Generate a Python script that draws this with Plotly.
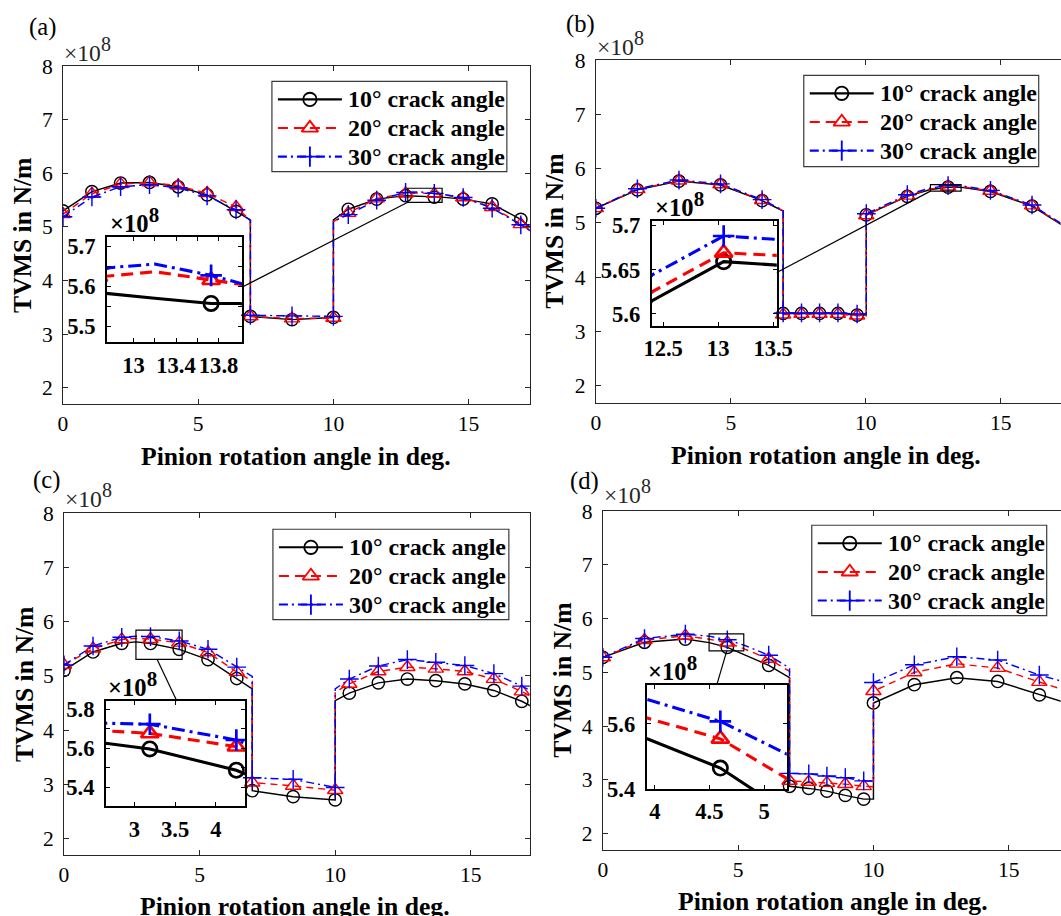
import plotly.graph_objects as go

# Window-pixel geometry is mapped onto the figure through the page placement
# (window = S * figure + O); sizes are scaled by K so they keep their on-screen size.
SX, OX = 0.978, 8.0
SY, OY = 0.970, 12.0
K = 1 / 0.974
PAGE_W, PAGE_H = 1061, 916
W = round((PAGE_W - OX) / SX)
H = round((PAGE_H - OY) / SY)
SERIF = "Liberation Serif"

# ---------------- data: TVMS in units of 1e8 N/m ----------------
# *_mk flags which sampled points carry a marker symbol
a_x  = [0, 1.07, 2.13, 3.2, 4.26, 5.33, 6.4, 6.93, 6.93, 8.47, 10.0, 10.0, 10.55, 11.6, 12.67, 13.2, 13.73, 14.0, 14.8, 15.87, 16.93, 17.3]
a_10 = [5.30, 5.66, 5.82, 5.83, 5.75, 5.60, 5.29, 5.13, 3.33, 3.27, 3.31, 5.13, 5.33, 5.52, 5.584, 5.570, 5.557, 5.557, 5.52, 5.43, 5.14, 4.98]
a_20 = [5.24, 5.62, 5.80, 5.83, 5.77, 5.63, 5.37, 5.12, 3.33, 3.29, 3.30, 5.10, 5.26, 5.53, 5.623, 5.636, 5.615, 5.605, 5.55, 5.37, 5.05, 4.93]
a_30 = [5.19, 5.56, 5.75, 5.79, 5.73, 5.58, 5.32, 5.12, 3.35, 3.34, 3.33, 5.10, 5.23, 5.50, 5.644, 5.655, 5.627, 5.610, 5.55, 5.35, 5.04, 4.92]
a_mk = [1, 1, 1, 1, 1, 1, 1, 0, 1, 1, 1, 0, 1, 1, 1, 0, 1, 0, 1, 1, 1, 0]

b_x  = [0, 1.54, 3.08, 4.62, 6.16, 6.94, 6.94, 7.62, 8.29, 8.97, 9.68, 10.02, 10.02, 11.54, 12.4, 13.05, 13.55, 14.62, 16.16, 17.3]
b_10 = [5.27, 5.61, 5.77, 5.70, 5.41, 5.22, 3.33, 3.33, 3.33, 3.33, 3.30, 3.30, 5.15, 5.49, 5.615, 5.659, 5.655, 5.58, 5.31, 4.95]
b_20 = [5.27, 5.62, 5.78, 5.71, 5.42, 5.22, 3.31, 3.32, 3.32, 3.32, 3.29, 3.29, 5.14, 5.50, 5.625, 5.669, 5.666, 5.59, 5.32, 4.96]
b_30 = [5.27, 5.63, 5.79, 5.72, 5.43, 5.23, 3.34, 3.34, 3.34, 3.34, 3.32, 3.32, 5.17, 5.52, 5.644, 5.688, 5.684, 5.60, 5.33, 4.97]
b_mk = [1, 1, 1, 1, 1, 0, 1, 1, 1, 1, 1, 0, 1, 1, 0, 1, 0, 1, 1, 0]

c_x  = [0, 1.07, 2.13, 2.65, 3.19, 4.25, 5.31, 6.37, 6.94, 6.94, 8.45, 10.0, 10.0, 10.52, 11.59, 12.66, 13.71, 14.78, 15.85, 16.88, 17.3]
c_10 = [5.10, 5.44, 5.60, 5.626, 5.597, 5.488, 5.30, 4.95, 4.76, 2.88, 2.77, 2.71, 4.54, 4.68, 4.87, 4.94, 4.91, 4.85, 4.73, 4.53, 4.42]
c_20 = [5.20, 5.50, 5.67, 5.690, 5.677, 5.609, 5.43, 5.07, 4.90, 3.03, 2.97, 2.89, 4.70, 4.85, 5.08, 5.16, 5.13, 5.08, 4.94, 4.71, 4.60]
c_30 = [5.20, 5.55, 5.71, 5.729, 5.724, 5.643, 5.49, 5.16, 4.99, 3.12, 3.09, 2.94, 4.76, 4.94, 5.18, 5.30, 5.25, 5.19, 5.04, 4.81, 4.70]
c_mk = [1, 1, 1, 0, 1, 1, 1, 1, 0, 1, 1, 1, 0, 1, 1, 1, 1, 1, 1, 1, 0]

d_x  = [0, 1.54, 3.05, 3.93, 4.6, 5.2, 6.13, 6.9, 6.9, 7.61, 8.28, 8.96, 9.64, 10.0, 10.0, 11.51, 13.08, 14.59, 16.13, 17.0]
d_10 = [5.28, 5.56, 5.62, 5.554, 5.465, 5.33, 5.13, 4.90, 2.88, 2.84, 2.79, 2.71, 2.64, 2.64, 4.43, 4.77, 4.90, 4.83, 4.58, 4.45]
d_20 = [5.28, 5.60, 5.68, 5.617, 5.554, 5.443, 5.25, 5.02, 2.98, 2.96, 2.94, 2.92, 2.88, 2.87, 4.65, 5.00, 5.16, 5.08, 4.82, 4.68]
d_30 = [5.28, 5.63, 5.71, 5.674, 5.607, 5.509, 5.32, 5.08, 3.12, 3.11, 3.07, 3.04, 2.98, 2.97, 4.81, 5.14, 5.29, 5.23, 4.95, 4.83]
d_mk = [1, 1, 1, 0, 1, 0, 1, 0, 1, 1, 1, 1, 1, 0, 1, 1, 1, 1, 1, 0]

series_names = ["10° crack angle", "20° crack angle", "30° crack angle"]

main_xticks = [0, 5, 10, 15]
main_yticks = [2, 3, 4, 5, 6, 7, 8]

a_in_xt = [13.0, 13.2, 13.4, 13.6, 13.8]
a_in_xl = ["13", "", "13.4", "", "13.8"]
a_in_yt = [5.5, 5.55, 5.6, 5.65, 5.7]
a_in_yl = ["5.5", "", "5.6", "", "5.7"]
b_in_xt = [12.5, 13.0, 13.5]
b_in_xl = ["12.5", "13", "13.5"]
b_in_yt = [5.6, 5.65, 5.7]
b_in_yl = ["5.6", "5.65", "5.7"]
c_in_xt = [3.0, 3.5, 4.0]
c_in_xl = ["3", "3.5", "4"]
c_in_yt = [5.4, 5.5, 5.6, 5.7, 5.8]
c_in_yl = ["5.4", "", "5.6", "", "5.8"]
d_in_xt = [4.0, 4.5, 5.0]
d_in_xl = ["4", "4.5", "5"]
d_in_yt = [5.4, 5.6]
d_in_yl = ["5.4", "5.6"]

# ---------------- layout geometry (window pixels from the top-left corner) ----------------
# main box: left/top/right/bottom with the x scale given as (px of x=0, px per unit)
panels = [
    dict(tag="(a)", x=a_x, ys=[a_10, a_20, a_30], mk=a_mk,
         box=(63, 67, 530, 403), x0px=63, xppu=27.05, yr=[1.70, 8.0], mirror_y="ticks",
         ibox=(107, 237, 242, 342), ixr=[12.75, 14.02], iyr=[5.46, 5.7225],
         ixt=a_in_xt, ixl=a_in_xl, iyt=a_in_yt, iyl=a_in_yl,
         legend=(272, 82, 507, 172), letter=(27, 28), expo=(62, 69), iexpo=(108, 239),
         ytitle=(23, 235), xtitle=(296, 456), conn="right", cfrac=(0.476, None)),
    dict(tag="(b)", x=b_x, ys=[b_10, b_20, b_30], mk=b_mk,
         box=(596, 61, 1061, 402), x0px=596, xppu=27.0, yr=[1.685, 8.0], mirror_y=False,
         ibox=(652, 221, 777, 326), ixr=[12.397, 13.533], iyr=[5.586, 5.705],
         ixt=b_in_xt, ixl=b_in_xl, iyt=b_in_yt, iyl=b_in_yl,
         legend=(804, 76, 1039, 167), letter=(564, 25), expo=(595, 63), iexpo=(653, 223),
         ytitle=(555, 231), xtitle=(826, 455), conn="right", cfrac=(0.49, None)),
    dict(tag="(c)", x=c_x, ys=[c_10, c_20, c_30], mk=c_mk,
         box=(64, 512, 530, 852), x0px=64, xppu=27.13, yr=[1.70, 8.0], mirror_y="ticks",
         ibox=(106, 699, 245, 804), ixr=[2.653, 4.355], iyr=[5.302, 5.843],
         ixt=c_in_xt, ixl=c_in_xl, iyt=c_in_yt, iyl=c_in_yl,
         legend=(273, 528, 509, 618), letter=(31, 479), expo=(63, 513), iexpo=(106, 701),
         ytitle=(25, 682), xtitle=(295, 904), conn="top", cfrac=(0.46, 0.51)),
    dict(tag="(d)", x=d_x, ys=[d_10, d_20, d_30], mk=d_mk,
         box=(603, 510, 1061, 847), x0px=603, xppu=27.07, yr=[1.70, 8.0], mirror_y=False,
         ibox=(647, 683, 787, 787), ixr=[3.927, 5.208], iyr=[5.40, 5.718],
         ixt=d_in_xt, ixl=d_in_xl, iyt=d_in_yt, iyl=d_in_yl,
         legend=(812, 524, 1047, 614), letter=(568, 480), expo=(602, 509), iexpo=(646, 685),
         ytitle=(563, 678), xtitle=(833, 899), conn="top", cfrac=(0.51, 0.50)),
]

styles = [
    dict(color="black", dash="solid", idash="solid", ldash="solid",
         symbol="circle-open", size=12),
    dict(color="red", dash="7px,5px", idash="12px,7px", ldash="10px,6px",
         symbol="triangle-up-open", size=13),
    dict(color="blue", dash="8px,4px,2px,4px", idash="13px,5px,3px,5px", ldash="9px,4px,2px,4px",
         symbol="cross-thin-open", size=13),
]


def fx(px):
    return (px - OX) / SX


def fy(py):
    return (py - OY) / SY


def pfx(px):
    return min(max(fx(px) / W, 0), 1)


def pfy(py):
    return min(max(1 - fy(py) / H, 0), 1)


def ax_name(kind, n):
    return kind if n == 1 else f"{kind}{n}"


def font(size, **kw):
    return dict(family=SERIF, size=size * K, color=kw.pop("color", "black"), **kw)


fig = go.Figure()
layout_axes = {}
annotations = []
shapes = []
legend_rows = (18, 46.5, 75)   # row centres inside a legend box

for i, p in enumerate(panels, start=1):
    j = i + 4
    xa, ya = ax_name("x", i), ax_name("y", i)
    xi, yi = ax_name("x", j), ax_name("y", j)
    marked_x = [x for x, f in zip(p["x"], p["mk"]) if f]

    for st, yv in zip(styles, p["ys"]):
        marked_y = [y for y, f in zip(yv, p["mk"]) if f]
        # main axes: curve and markers
        fig.add_trace(go.Scatter(x=p["x"], y=yv, mode="lines", xaxis=xa, yaxis=ya,
                                 line=dict(color=st["color"], width=1.4 * K, dash=st["dash"]),
                                 showlegend=False, hoverinfo="skip"))
        fig.add_trace(go.Scatter(x=marked_x, y=marked_y, mode="markers", xaxis=xa, yaxis=ya,
                                 marker=dict(symbol=st["symbol"], size=st["size"] * K,
                                             color=st["color"],
                                             line=dict(color=st["color"], width=1.4 * K)),
                                 showlegend=False, hoverinfo="skip"))
        # inset axes: zoomed view of the same series
        fig.add_trace(go.Scatter(x=p["x"], y=yv, mode="lines", xaxis=xi, yaxis=yi,
                                 line=dict(color=st["color"], width=3 * K, dash=st["idash"]),
                                 showlegend=False, hoverinfo="skip"))
        fig.add_trace(go.Scatter(x=marked_x, y=marked_y, mode="markers", xaxis=xi, yaxis=yi,
                                 marker=dict(symbol=st["symbol"], size=(st["size"] + 2) * K,
                                             color=st["color"],
                                             line=dict(color=st["color"], width=2.6 * K)),
                                 showlegend=False, hoverinfo="skip"))

    l, t, r, b = p["box"]
    r_vis = min(r, OX + SX * W)
    xr = [(l - p["x0px"]) / p["xppu"], (r_vis - p["x0px"]) / p["xppu"]]
    layout_axes[ax_name("xaxis", i)] = dict(
        domain=[pfx(l), pfx(r_vis)], range=xr, anchor=ya, tickvals=main_xticks,
        ticks="inside", ticklen=5, tickwidth=1, tickcolor="#262626",
        showline=True, linecolor="#262626", linewidth=1, mirror="ticks",
        showgrid=False, zeroline=False, tickfont=font(21), ticklabelstandoff=0)
    layout_axes[ax_name("yaxis", i)] = dict(
        domain=[pfy(b), pfy(t)], range=p["yr"], anchor=xa, tickvals=main_yticks,
        ticks="inside", ticklen=5, tickwidth=1, tickcolor="#262626",
        showline=True, linecolor="#262626", linewidth=1, mirror=p["mirror_y"],
        showgrid=False, zeroline=False, tickfont=font(21), ticklabelstandoff=5)

    il, it, ir, ib = p["ibox"]
    layout_axes[ax_name("xaxis", j)] = dict(
        domain=[pfx(il), pfx(ir)], range=p["ixr"], anchor=yi,
        tickvals=p["ixt"], ticktext=p["ixl"],
        ticks="inside", ticklen=4, tickwidth=1.2, tickcolor="black",
        showline=True, linecolor="black", linewidth=2, mirror="ticks",
        showgrid=False, zeroline=False, tickfont=font(22, weight="bold"), ticklabelstandoff=1)
    layout_axes[ax_name("yaxis", j)] = dict(
        domain=[pfy(ib), pfy(it)], range=p["iyr"], anchor=xi,
        tickvals=p["iyt"], ticktext=p["iyl"],
        ticks="inside", ticklen=4, tickwidth=1.2, tickcolor="black",
        showline=True, linecolor="black", linewidth=2, mirror="ticks",
        showgrid=False, zeroline=False, tickfont=font(22, weight="bold"), ticklabelstandoff=5)

    # legend box drawn on the full-figure overlay axes (x9/y9, window pixel units)
    gl, gt, gr, gb = p["legend"]
    shapes.append(dict(type="rect", xref="x9", yref="y9", x0=gl, x1=gr, y0=gt, y1=gb,
                       line=dict(color="#3a3a3a", width=1.2), fillcolor="rgba(0,0,0,0)"))
    for st, name, dy in zip(styles, series_names, legend_rows):
        ry = gt + dy
        fig.add_trace(go.Scatter(x=[gl + 6, gl + 70], y=[ry, ry], mode="lines",
                                 xaxis="x9", yaxis="y9",
                                 line=dict(color=st["color"], width=2 * K, dash=st["ldash"]),
                                 showlegend=False, hoverinfo="skip"))
        fig.add_trace(go.Scatter(x=[gl + 38], y=[ry], mode="markers", xaxis="x9", yaxis="y9",
                                 marker=dict(symbol=st["symbol"], size=(st["size"] + 1) * K,
                                             color=st["color"],
                                             line=dict(color=st["color"], width=1.8 * K)),
                                 showlegend=False, hoverinfo="skip"))
        annotations.append(dict(text=name, x=gl + 74, y=ry, xref="x9", yref="y9",
                                xanchor="left", yanchor="middle", showarrow=False,
                                font=font(23.3, weight="bold")))

    # text: panel letter, exponent labels, axis titles
    annotations.append(dict(text=p["tag"], x=pfx(p["letter"][0]), y=pfy(p["letter"][1]),
                            xref="paper", yref="paper", xanchor="left", yanchor="middle",
                            showarrow=False, font=font(24)))
    annotations.append(dict(text="×10<sup><span style='font-size:%dpx'>8</span></sup>" % round(19 * K),
                            x=pfx(p["expo"][0]), y=pfy(p["expo"][1]),
                            xref="paper", yref="paper", xanchor="left", yanchor="bottom",
                            showarrow=False, font=font(23, color="#262626")))
    annotations.append(dict(text="×10<sup><span style='font-size:%dpx'>8</span></sup>" % round(20 * K),
                            x=pfx(p["iexpo"][0]), y=pfy(p["iexpo"][1]),
                            xref="paper", yref="paper", xanchor="left", yanchor="bottom",
                            showarrow=False, font=font(24, weight="bold")))
    annotations.append(dict(text="TVMS in N/m", x=pfx(p["ytitle"][0]), y=pfy(p["ytitle"][1]),
                            xref="paper", yref="paper", xanchor="center", yanchor="middle",
                            textangle=-90, showarrow=False, font=font(25, weight="bold")))
    annotations.append(dict(text="Pinion rotation angle in deg.", x=pfx(p["xtitle"][0]),
                            y=pfy(p["xtitle"][1]), xref="paper", yref="paper",
                            xanchor="center", yanchor="middle", showarrow=False,
                            font=font(25, weight="bold")))

    # zoom window on the main axes and the connector to the inset
    shapes.append(dict(type="rect", xref=xa, yref=ya,
                       x0=p["ixr"][0], x1=p["ixr"][1], y0=p["iyr"][0], y1=p["iyr"][1],
                       line=dict(color="black", width=1.2), fillcolor="rgba(0,0,0,0)"))

    def main_px(x, y):
        px = p["x0px"] + x * p["xppu"]
        py = b - (y - p["yr"][0]) / (p["yr"][1] - p["yr"][0]) * (b - t)
        return px, py

    rx0, ry1 = main_px(p["ixr"][0], p["iyr"][0])
    rx1, ry0 = main_px(p["ixr"][1], p["iyr"][1])
    if p["conn"] == "right":
        sx, sy = ir, it + p["cfrac"][0] * (ib - it)
        ex, ey = rx0, ry1
    else:
        sx, sy = rx0 + p["cfrac"][0] * (rx1 - rx0), ry1
        ex, ey = il + p["cfrac"][1] * (ir - il), it
    shapes.append(dict(type="line", xref="paper", yref="paper",
                       x0=pfx(sx), y0=pfy(sy), x1=pfx(ex), y1=pfy(ey),
                       line=dict(color="black", width=1.2)))

# overlay axes in window-pixel units, used for the legend boxes
layout_axes["xaxis9"] = dict(domain=[0, 1], range=[OX, OX + SX * W], anchor="y9",
                             visible=False, fixedrange=True)
layout_axes["yaxis9"] = dict(domain=[0, 1], range=[OY + SY * H, OY], anchor="x9",
                             visible=False, fixedrange=True)

fig.update_layout(
    width=W, height=H,
    margin=dict(l=0, r=0, t=0, b=0),
    paper_bgcolor="white", plot_bgcolor="rgba(0,0,0,0)",
    showlegend=False,
    annotations=annotations, shapes=shapes,
    **layout_axes,
)

fig.write_html("out.html")
